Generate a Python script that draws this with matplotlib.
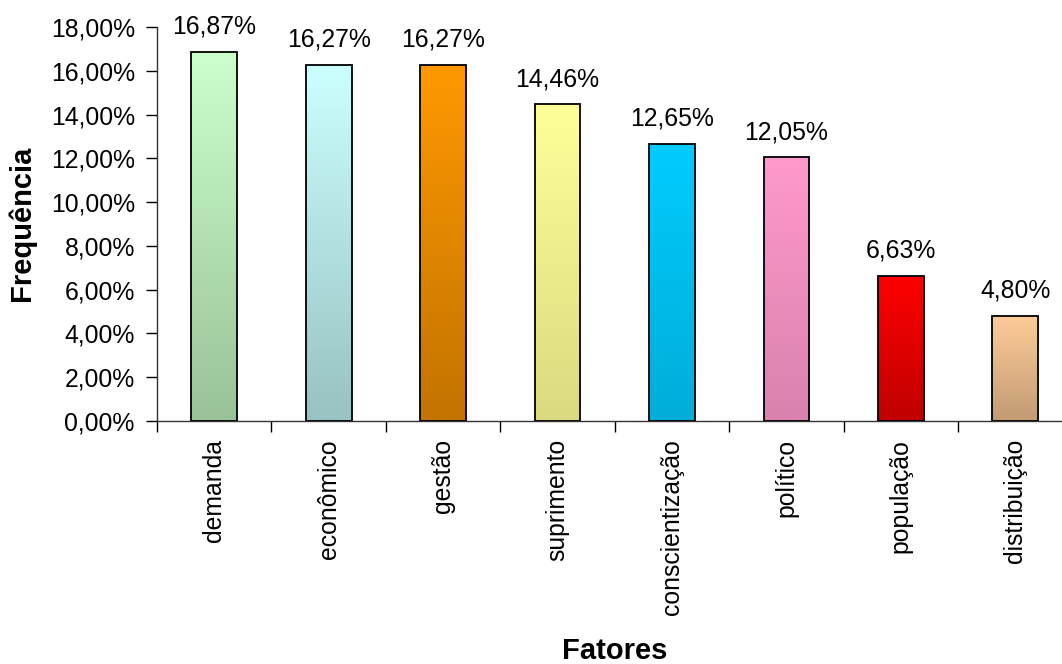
import matplotlib
matplotlib.use("Agg")
import matplotlib.pyplot as plt
import numpy as np
from matplotlib.colors import LinearSegmentedColormap
from matplotlib.ticker import FuncFormatter, FixedLocator

plt.rcParams['font.family'] = ['Liberation Sans', 'DejaVu Sans']

categories = ["demanda", "econômico", "gestão", "suprimento",
              "conscientização", "político", "população", "distribuição"]
values = [16.87, 16.27, 16.27, 14.46, 12.65, 12.05, 6.63, 4.80]
labels = ["16,87%", "16,27%", "16,27%", "14,46%", "12,65%", "12,05%", "6,63%", "4,80%"]
top_colors = ["#CCFFCC", "#CCFFFF", "#FF9900", "#FFFF99",
              "#00CCFF", "#FF99CC", "#FF0000", "#FFCC99"]
bottom_colors = ["#99C299", "#99C2C2", "#C27300", "#DBDA80",
                 "#00ADD8", "#D982AD", "#C00000", "#C29B73"]
y_ticks = [0, 2, 4, 6, 8, 10, 12, 14, 16, 18]

fig = plt.figure(figsize=(10.62, 6.64), dpi=100)
ax = fig.add_axes([157/1062, 1-421/664, (1072.6-157)/1062, (421-27)/664])

x = np.arange(len(categories))
bars = ax.bar(x, values, width=0.40, color='none', edgecolor='black',
              linewidth=1.3, zorder=3)

grad = np.linspace(0, 1, 256).reshape(-1, 1)
for b, tc, bc in zip(bars, top_colors, bottom_colors):
    cmap = LinearSegmentedColormap.from_list("g", [bc, tc])
    x0, y0 = b.get_x(), b.get_y()
    w, h = b.get_width(), b.get_height()
    im = ax.imshow(grad, cmap=cmap, origin='lower', aspect='auto',
                   extent=[x0, x0 + w, y0, y0 + h], zorder=2,
                   interpolation='bilinear')
    im.set_clip_path(b)

for xi, v, lab in zip(x, values, labels):
    ax.annotate(lab, (xi, v), xytext=(0, 9.5), textcoords='offset points',
                ha='center', va='bottom', fontsize=17.8, color='black')

ax.set_xlim(-0.5, 7.5)
ax.set_ylim(0, 18)

ax.set_yticks(y_ticks)
ax.yaxis.set_major_formatter(FuncFormatter(lambda v, p: f"{v:.2f}".replace('.', ',') + "%"))
ax.tick_params(axis='y', direction='out', length=8, width=1, pad=8,
               labelsize=17.8, colors='black')

ax.set_xticks(x)
ax.set_xticklabels(categories, rotation=90, fontsize=17.8)
ax.tick_params(axis='x', which='major', length=0, pad=13)
ax.xaxis.set_minor_locator(FixedLocator(np.arange(-0.5, 7.5, 1.0)))
ax.tick_params(axis='x', which='minor', direction='out', length=8, width=1)

for s in ['top', 'right']:
    ax.spines[s].set_visible(False)
for s in ['left', 'bottom']:
    ax.spines[s].set_linewidth(1.0)
    ax.spines[s].set_color('#333333')

fig.text(22/1062, 1-223/664, "Frequência", rotation=90, ha='center', va='center',
         fontsize=21, fontweight='bold')
fig.text(615/1062, 1-651/664, "Fatores", ha='center', va='center',
         fontsize=21, fontweight='bold')

fig.savefig("out.png", dpi=100)
